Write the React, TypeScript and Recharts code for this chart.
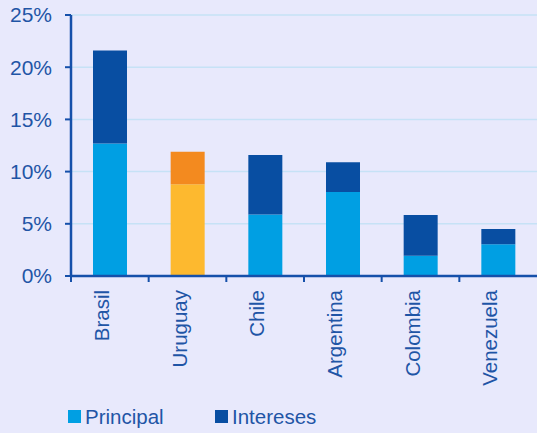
import React from 'react';
import { BarChart, Bar, XAxis, YAxis, CartesianGrid, Cell, Legend } from 'recharts';

const countries = ['Brasil', 'Uruguay', 'Chile', 'Argentina', 'Colombia', 'Venezuela'];
const principal = [12.7, 8.8, 5.9, 8.05, 1.95, 3.05];
const intereses = [8.9, 3.1, 5.7, 2.85, 3.9, 1.45];
const yTicks = [0, 5, 10, 15, 20, 25];

const PRINCIPAL = '#009fe3';
const INTERESES = '#084ea2';
const HL_PRINCIPAL = '#fdb92f';
const HL_INTERESES = '#f38a1f';
const TEXT = '#1f55a6';
const AXIS = '#1550aa';
const FONT = '"Liberation Sans", Arial, sans-serif';

const data = countries.map((name, i) => ({
  name,
  principal: principal[i],
  intereses: intereses[i],
}));

const CountryTick = (props: any) => {
  const { x, y, payload } = props;
  const half = payload && payload.offset ? payload.offset : 39;
  return (
    <g>
      <line x1={x - half} x2={x - half} y1={y - 8} y2={y - 2} stroke={AXIS} strokeWidth={2} />
      <text
        x={x - 1}
        y={y + 6}
        transform={`rotate(-90, ${x - 1}, ${y + 6})`}
        textAnchor="end"
        fill={TEXT}
        fontSize={20.5}
        fontFamily={FONT}
      >
        {payload.value}
      </text>
    </g>
  );
};

const LegendBox = () => (
  <div style={{ position: 'relative', height: 40, fontFamily: FONT, fontSize: 20.5, color: TEXT }}>
    <div style={{ position: 'absolute', left: 68, top: 17, width: 13, height: 13, background: PRINCIPAL }} />
    <div style={{ position: 'absolute', left: 85, top: 12, lineHeight: '23px' }}>Principal</div>
    <div style={{ position: 'absolute', left: 215, top: 17, width: 13, height: 13, background: INTERESES }} />
    <div style={{ position: 'absolute', left: 232, top: 12, lineHeight: '23px' }}>Intereses</div>
  </div>
);

export default function App() {
  return (
    <div style={{ position: 'absolute', left: 0, top: 0, width: 537, height: 433, background: '#e8e9fc' }}>
      <BarChart
        width={537}
        height={433}
        data={data}
        margin={{ top: 15, right: 0, bottom: 0, left: 0 }}
        barCategoryGap={0}
      >
        <CartesianGrid vertical={false} stroke="#c6e2f6" strokeWidth={1.5} />
        <XAxis
          dataKey="name"
          interval={0}
          height={117}
          axisLine={{ stroke: AXIS, strokeWidth: 2.5 }}
          tickLine={false}
          tick={<CountryTick />}
        />
        <YAxis
          width={71}
          domain={[0, 25]}
          ticks={yTicks}
          interval={0}
          tickFormatter={(v: number) => `${v}%`}
          axisLine={{ stroke: AXIS, strokeWidth: 2.5 }}
          tickLine={{ stroke: AXIS, strokeWidth: 2 }}
          tickSize={6}
          tickMargin={13}
          tick={{ fill: TEXT, fontSize: 21, fontFamily: FONT }}
        />
        <Legend verticalAlign="bottom" height={40} content={<LegendBox />} />
        <Bar dataKey="principal" name="Principal" stackId="a" fill={PRINCIPAL} barSize={34} isAnimationActive={false}>
          {data.map((d, i) => (
            <Cell key={`p-${i}`} fill={d.name === 'Uruguay' ? HL_PRINCIPAL : PRINCIPAL} />
          ))}
        </Bar>
        <Bar dataKey="intereses" name="Intereses" stackId="a" fill={INTERESES} barSize={34} isAnimationActive={false}>
          {data.map((d, i) => (
            <Cell key={`i-${i}`} fill={d.name === 'Uruguay' ? HL_INTERESES : INTERESES} />
          ))}
        </Bar>
      </BarChart>
    </div>
  );
}
